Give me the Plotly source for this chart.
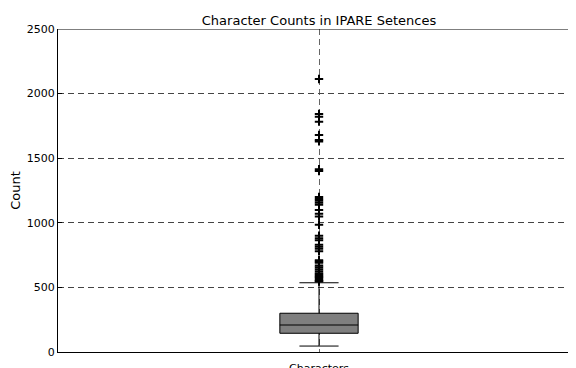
import plotly.graph_objects as go

category = ["Characters"]
q1 = [145]
median = [209]
q3 = [300]
lower_whisker = [46]
upper_whisker = [536]
outliers = [2113, 1842, 1820, 1783, 1680, 1640, 1630, 1415, 1400, 1200, 1185,
            1170, 1155, 1140, 1100, 1070, 1048, 985, 900, 880, 865, 830, 815,
            800, 780, 710, 700, 690, 670, 655, 640, 625, 610, 600, 590, 580,
            570, 560, 550, 545]
y_ticks = [0, 500, 1000, 1500, 2000, 2500]

W, H = 572, 360  # page body has an 8px offset; plot runs past the right edge

fig = go.Figure()
fig.add_trace(go.Box(
    x=category, q1=q1, median=median, q3=q3,
    lowerfence=lower_whisker, upperfence=upper_whisker,
    fillcolor="#7f7f7f", line=dict(color="black", width=1),
    width=0.15, whiskerwidth=0.5, boxpoints=False, showlegend=False,
))
fig.add_trace(go.Scatter(
    x=category * len(outliers), y=outliers, mode="markers",
    marker=dict(symbol="cross-thin", size=6, line=dict(color="black", width=2)),
    showlegend=False,
))
fig.add_shape(type="line", xref="paper", yref="y", x0=0, x1=1, y0=2500, y1=2500,
              line=dict(color="black", width=1))

fig.update_layout(
    width=W, height=H,
    margin=dict(l=50, r=0, t=21, b=16),
    paper_bgcolor="white", plot_bgcolor="white",
    font=dict(family="DejaVu Sans", size=11, color="black"),
    title=dict(text="Character Counts in IPARE Setences", x=311 / W, xanchor="center",
               y=1 - 12 / H, yanchor="middle", yref="container",
               font=dict(size=13)),
)
fig.update_xaxes(type="category", range=[-0.5, 0.5], showline=True, linecolor="black",
                 linewidth=1, showgrid=True, gridcolor="#666", griddash="6px,4px",
                 ticks="", zeroline=False, automargin=False, ticklabelstandoff=6)
fig.update_yaxes(range=[0, 2500], tickvals=y_ticks, showline=True, linecolor="black",
                 linewidth=1, showgrid=True, gridcolor="#444", griddash="6px,4px",
                 zeroline=False, ticks="inside", ticklen=4, tickcolor="black",
                 automargin=False,
                 title=dict(text="Count", standoff=4))

fig.write_html("out.html")
